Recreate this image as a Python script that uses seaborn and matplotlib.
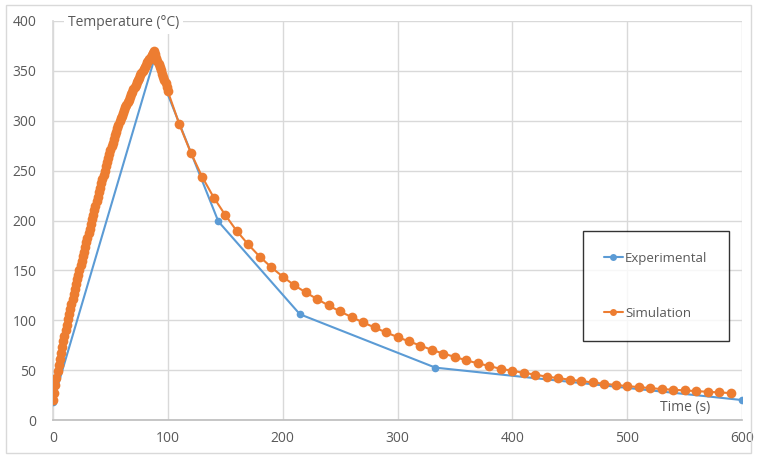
import numpy as np
import pandas as pd
import matplotlib
matplotlib.use("Agg")
import matplotlib.pyplot as plt
import seaborn as sns
from matplotlib.patches import Rectangle

# ---------------- data ----------------
exp_time = [0, 88, 144, 215, 333, 600]
exp_temp = [18, 361, 199, 106, 52.5, 20]

# simulation: heating phase (1 s steps, 0..88 s)
sim_heat_time = list(range(0, 89))
sim_heat_temp = [
    20.0, 27.5, 35.0, 42.3, 49.3, 55.5, 61.5, 67.5, 73.3, 79.0,
    84.7, 90.2, 95.6, 101.0, 106.2, 111.4, 116.5, 121.5, 126.5, 131.4,
    136.2, 141.0, 145.8, 150.5, 155.1, 159.7, 164.3, 168.9, 173.5, 178.1,
    182.7, 187.3, 191.9, 196.5, 201.1, 205.7, 210.3, 214.9, 219.5, 224.0,
    228.5, 232.9, 237.3, 241.6, 245.9, 250.1, 254.3, 258.4, 262.5, 266.5,
    270.4, 274.3, 278.1, 281.8, 285.5, 289.1, 292.6, 296.1, 299.5, 302.4,
    305.2, 308.0, 310.7, 313.4, 316.1, 318.7, 321.3, 323.9, 326.4, 328.9,
    331.4, 333.8, 336.2, 338.6, 340.9, 343.2, 345.5, 347.7, 349.9, 352.1,
    354.2, 356.3, 358.4, 360.4, 362.4, 364.4, 366.3, 368.1, 369.8,
]
# simulation: first cooling seconds (1 s steps, 89..100 s)
sim_cool1_time = list(range(89, 101))
sim_cool1_temp = [366.5, 363.2, 360.0, 356.8, 353.6, 350.4, 347.2, 344.0,
                  340.8, 337.6, 334.0, 329.5]
# simulation: cooling (10 s steps, 110..590 s)
sim_cool2_time = list(range(110, 600, 10))
sim_cool2_temp = [
    296.5, 268.0, 243.5, 223.0, 205.5, 189.5, 176.0, 163.8, 153.2, 143.8,
    135.2, 128.0, 121.2, 114.8, 108.8, 103.2, 97.8, 92.8, 87.8, 83.2,
    78.8, 74.6, 70.2, 66.6, 63.2, 59.8, 56.8, 54.1, 51.2, 49.4,
    47.2, 45.5, 43.4, 42.0, 40.4, 39.0, 37.7, 36.3, 35.1, 34.0,
    33.0, 32.0, 31.0, 30.3, 29.6, 29.0, 28.3, 27.7, 27.0,
]

x_ticks = [0, 100, 200, 300, 400, 500, 600]
y_ticks = [0, 50, 100, 150, 200, 250, 300, 350, 400]
y_title = "Temperature (°C)"
x_title = "Time (s)"
series_names = ["Experimental", "Simulation"]

# ---------------- figure ----------------
sns.set_theme(style="white")
plt.rcParams["font.family"] = ["Open Sans", "DejaVu Sans"]

W, H = 757, 457
fig = plt.figure(figsize=(W / 100, H / 100), dpi=100)
ax = fig.add_axes([53 / W, 37 / H, (742 - 53) / W, (420 - 21) / H])

blue = "#5B9BD5"
orange = "#ED7D31"
text_col = "#595959"
grid_col = "#d9d9d9"

sim_time = sim_heat_time + sim_cool1_time + sim_cool2_time
sim_temp = sim_heat_temp + sim_cool1_temp + sim_cool2_temp
df_exp = pd.DataFrame({"t": exp_time, "T": exp_temp})
df_sim = pd.DataFrame({"t": sim_time, "T": sim_temp})

sns.lineplot(data=df_exp, x="t", y="T", ax=ax, sort=False, color=blue,
             linewidth=1.5, marker="o", markersize=5.5, markeredgewidth=0,
             label=series_names[0], zorder=3)
sns.lineplot(data=df_sim, x="t", y="T", ax=ax, sort=False, color=orange,
             linewidth=1.5, marker="o", markersize=7, markeredgewidth=0,
             label=series_names[1], zorder=4)

ax.set_xlim(0, 600)
ax.set_ylim(0, 400)
ax.set_xticks(x_ticks)
ax.set_yticks(y_ticks)
ax.set_xlabel("")
ax.set_ylabel("")
ax.grid(True, color=grid_col, linewidth=1.0)
ax.set_axisbelow(True)
for s in ["top", "right"]:
    ax.spines[s].set_visible(False)
ax.spines["left"].set_color(grid_col)
ax.spines["bottom"].set_color("#bfbfbf")
ax.tick_params(axis="both", length=0, labelsize=10, colors=text_col)
ax.tick_params(axis="y", pad=12)
ax.tick_params(axis="x", pad=8)

# axis titles placed inside the plot like the original
ax.text(68 / W, 1 - 22 / H, y_title, transform=fig.transFigure, ha="left",
        va="center", fontsize=10, color=text_col,
        bbox=dict(facecolor="white", edgecolor="none", pad=3), zorder=6)
ax.text(710 / W, 1 - 408 / H, x_title, transform=fig.transFigure, ha="right",
        va="center", fontsize=10, color=text_col, zorder=6)

leg = ax.legend(loc="upper left", bbox_to_anchor=(583 / W, 1 - 231 / H),
                bbox_transform=fig.transFigure, frameon=True, fancybox=False,
                edgecolor="black", fontsize=9.5, labelspacing=3.15,
                borderpad=1.6, handlelength=1.4, handletextpad=0.2,
                borderaxespad=0)
leg.get_frame().set_linewidth(1.0)
for t in leg.get_texts():
    t.set_color(text_col)
for h in leg.legend_handles:
    h.set_markersize(5)

# outer chart border
fig.patches.append(Rectangle((6 / W, 4 / H), (751 - 6) / W, (452 - 4) / H,
                             transform=fig.transFigure, fill=False,
                             edgecolor=grid_col, linewidth=1.0))

fig.savefig("out.png", dpi=100)
